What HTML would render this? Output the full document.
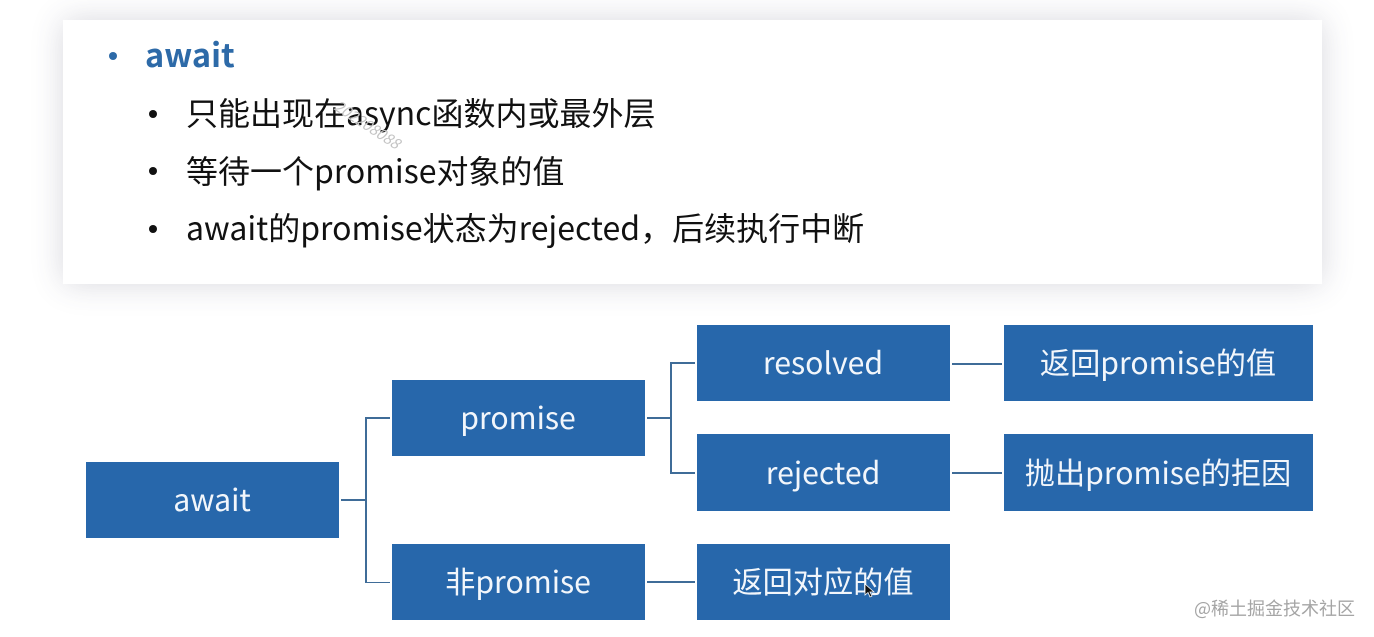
<!DOCTYPE html>
<html lang="zh"><head><meta charset="utf-8"><style>
html,body{margin:0;padding:0;background:#fff}
body{width:1374px;height:637px;position:relative;overflow:hidden;font-family:"Noto Sans CJK SC","Liberation Sans",sans-serif}
.card{position:absolute;left:63px;top:20px;width:1259px;height:264px;background:#fff;box-shadow:0 0 30px rgba(60,60,90,.2)}
.t{position:absolute;white-space:nowrap;color:#111;font-size:32px;line-height:40px}
.d{position:absolute;border-radius:50%;background:#111;width:8px;height:8px}
.n{position:absolute;background:#2767ab;color:#f2f6fb;font-size:30.2px;display:flex;align-items:center;justify-content:center;white-space:nowrap;width:253px;height:76px;padding:0 1px 4px 0;box-sizing:border-box}
.l{position:absolute;background:#3f6c98}
</style></head><body>
<div class="card"></div>
<div class="d" style="left:109px;top:52px;background:#2d6aa8"></div>
<div class="t" style="left:145px;top:34px;color:#2d6aa8;font-weight:700;font-size:32.5px">await</div>
<div class="d" style="left:149px;top:110px"></div>
<div class="t" style="left:186px;top:92px">只能出现在async函数内或最外层</div>
<div class="d" style="left:149px;top:167px"></div>
<div class="t" style="left:186px;top:150px">等待一个promise对象的值</div>
<div class="d" style="left:149px;top:225px"></div>
<div class="t" style="left:186px;top:207px">await的promise状态为rejected，后续执行中断</div>
<div class="t" style="left:340px;top:98px;font-size:15px;line-height:16px;color:#c4c4c4;font-style:italic;transform:rotate(33deg);transform-origin:0 0">202208088</div>

<div class="n" style="left:86px;top:462px">await</div>
<div class="n" style="left:392px;top:380px">promise</div>
<div class="n" style="left:392px;top:544px">非promise</div>
<div class="n" style="left:697px;top:325px">resolved</div>
<div class="n" style="left:697px;top:434px;height:77px">rejected</div>
<div class="n" style="left:697px;top:544px">返回对应的值</div>
<div class="n" style="left:1004px;top:325px;width:309px">返回promise的值</div>
<div class="n" style="left:1004px;top:434px;width:309px;height:77px">抛出promise的拒因</div>

<div class="l" style="left:341px;top:499px;width:25px;height:2px"></div>
<div class="l" style="left:365px;top:417px;width:2px;height:166px"></div>
<div class="l" style="left:365px;top:417px;width:25px;height:1.5px"></div>
<div class="l" style="left:365px;top:581.5px;width:25px;height:1.5px"></div>
<div class="l" style="left:647px;top:417px;width:24px;height:1.5px"></div>
<div class="l" style="left:670px;top:362px;width:1.5px;height:111px"></div>
<div class="l" style="left:670px;top:362px;width:25px;height:1.5px"></div>
<div class="l" style="left:670px;top:472px;width:25px;height:1.5px"></div>
<div class="l" style="left:952px;top:363px;width:50px;height:1.5px"></div>
<div class="l" style="left:952px;top:472px;width:50px;height:1.5px"></div>
<div class="l" style="left:647px;top:581px;width:48px;height:1.5px"></div>

<svg style="position:absolute;left:864px;top:583px" width="12" height="16" viewBox="0 0 12 16"><path d="M1 1 L1 12 L4 9.5 L6 14 L8 13 L6 9 L10 9 Z" fill="#111" stroke="#fff" stroke-width=".8"/></svg>
<div class="t" style="left:1194px;top:596px;font-size:18px;line-height:24px;color:#a5a5a5">@稀土掘金技术社区</div>
</body></html>
